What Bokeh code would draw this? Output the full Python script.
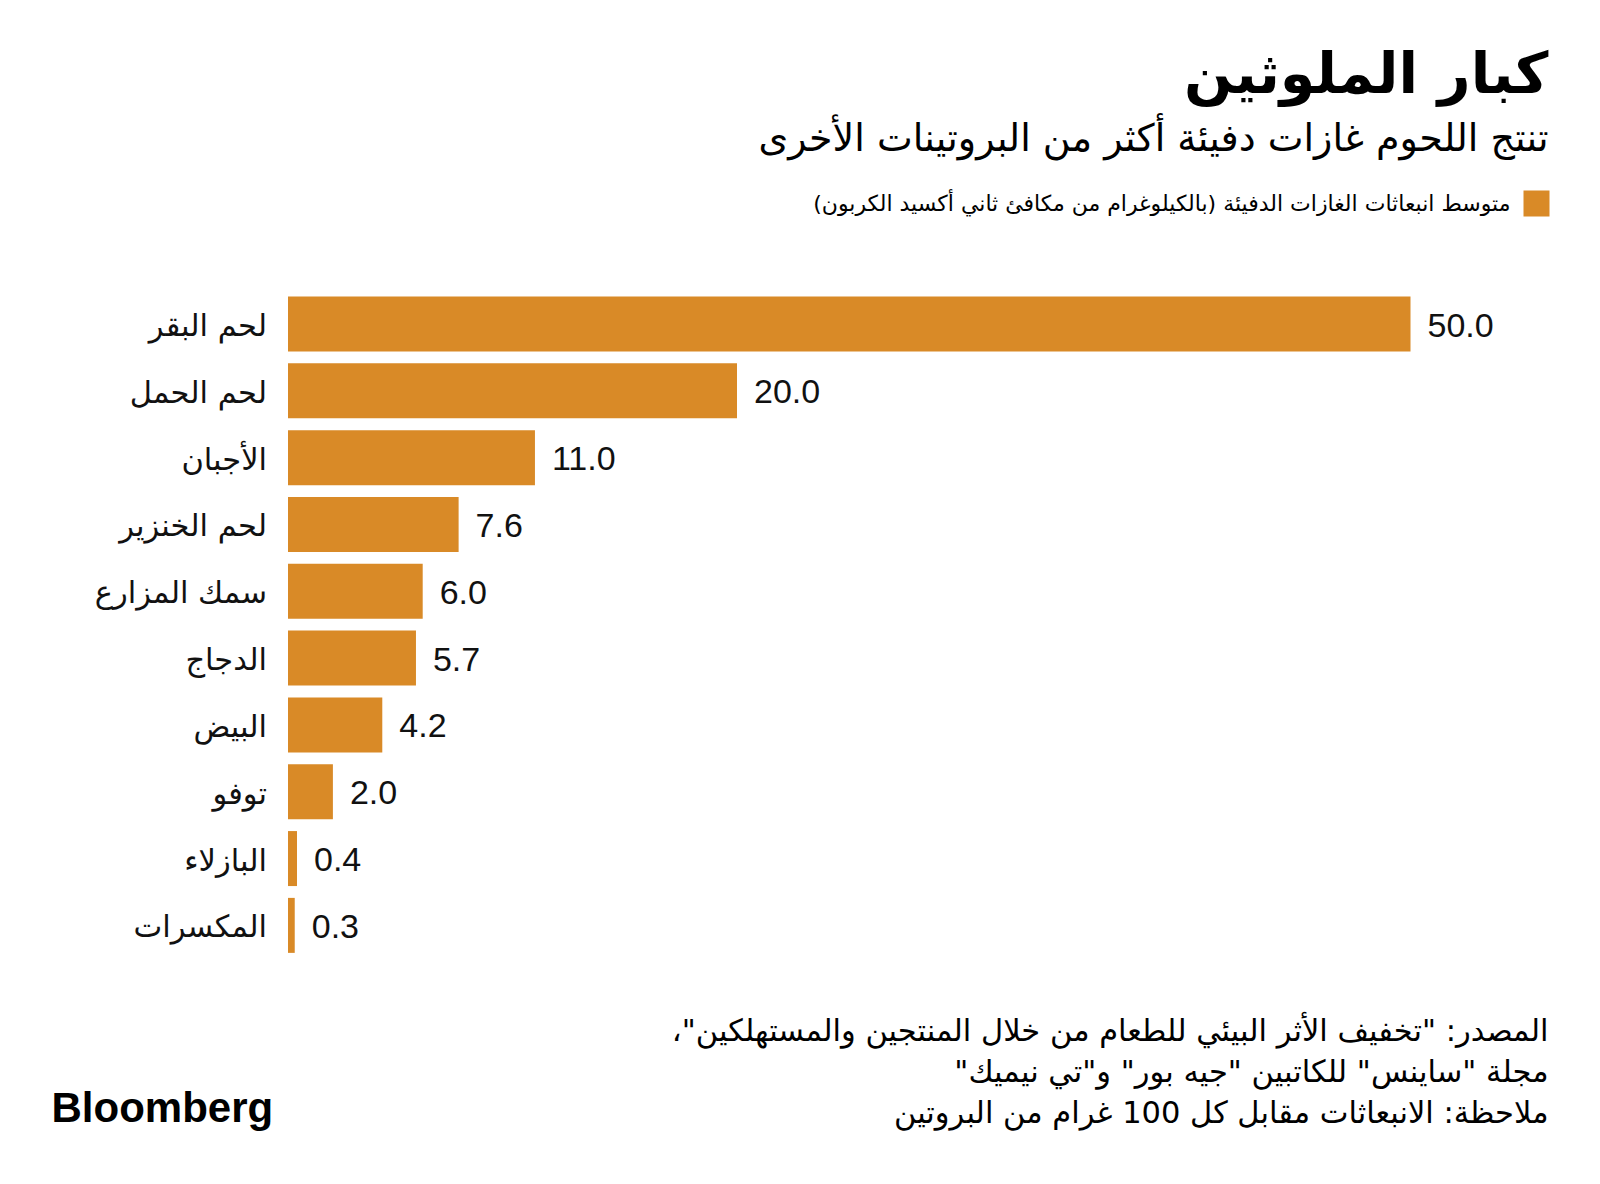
from bokeh.plotting import figure
from bokeh.models import Range1d, ColumnDataSource
from bokeh.embed import file_html
from bokeh.resources import INLINE
from bokeh.core.properties import value

RLM = "\u200f"

# ---------------- data ----------------
categories = ["لحم البقر", "لحم الحمل", "الأجبان", "لحم الخنزير", "سمك المزارع",
              "الدجاج", "البيض", "توفو", "البازلاء", "المكسرات"]
emissions = [50.0, 20.0, 11.0, 7.6, 6.0, 5.7, 4.2, 2.0, 0.4, 0.3]
value_labels = [f"{v:.1f}" for v in emissions]

title_text = "كبار الملوثين"
subtitle_text = "تنتج اللحوم غازات دفيئة أكثر من البروتينات الأخرى"
legend_text = "متوسط انبعاثات الغازات الدفيئة (بالكيلوغرام من مكافئ ثاني أكسيد الكربون)"
footer_lines = [
    'المصدر: "تخفيف الأثر البيئي للطعام من خلال المنتجين والمستهلكين"،',
    'مجلة "ساينس" للكاتبين "جيه بور" و"تي نيميك"',
    'ملاحظة: الانبعاثات مقابل كل 100 غرام من البروتين',
]
brand_text = "Bloomberg"

# ---------------- layout constants ----------------
W, H = 1584, 1168
ZERO_PX = 287.5       # canvas x of value 0
PX_PER_UNIT = 22.45   # pixels per kg
ROW0_PX = 323.5       # canvas y of first bar centre
ROW_PITCH = 66.82     # pixels per category row

BAR_COLOR = "#D98A27"
ARABIC = value("DejaVu Sans")
LATIN = value("Liberation Sans")

x_range = Range1d(-ZERO_PX / PX_PER_UNIT, (W - ZERO_PX) / PX_PER_UNIT)
y_top = -ROW0_PX / ROW_PITCH
y_range = Range1d(y_top + H / ROW_PITCH, y_top)

p = figure(width=W, height=H, x_range=x_range, y_range=y_range,
           output_backend="svg", toolbar_location=None,
           x_axis_location=None, y_axis_location=None,
           min_border=0, outline_line_color=None,
           background_fill_color="white", border_fill_color="white")
p.xgrid.visible = False
p.ygrid.visible = False

# pixel ranges for page furniture (titles, legend, notes)
p.extra_x_ranges = {"px": Range1d(0, W)}
p.extra_y_ranges = {"py": Range1d(H, 0)}

src = ColumnDataSource(dict(
    y=list(range(len(categories))),
    v=emissions,
    cat=categories,
    lbl=value_labels,
))

p.hbar(y="y", left=0, right="v", height=0.823, source=src,
       fill_color=BAR_COLOR, line_color=None)

p.text(x="v", y="y", text="lbl", source=src, x_offset=17, y_offset=1,
       text_align="left", text_baseline="alphabetic",
       text_font=LATIN, text_font_size="34px", text_color="#111111")

p.text(x=0, y="y", text="cat", source=src, x_offset=-21, y_offset=1.5,
       text_align="right", text_baseline="alphabetic",
       text_font=ARABIC, text_font_size="30.5px", text_color="#111111")

RIGHT = 1548

def ptext(x, y, t, size, font=ARABIC, align="right", style="normal", color="#000000"):
    p.text(x=[x], y=[y], text=[t], x_range_name="px", y_range_name="py",
           text_align=align, text_baseline="alphabetic", text_font=font,
           text_font_size=size, text_font_style=style, text_color=color)

ptext(RIGHT, 72, RLM + title_text + RLM, "57px", style="bold")
ptext(RIGHT, 137, RLM + subtitle_text + RLM, "38px")

# legend swatch
p.rect(x=[1536], y=[203], width=[26], height=[26], x_range_name="px",
       y_range_name="py", fill_color=BAR_COLOR, line_color=None)
ptext(1510, 203, RLM + legend_text + RLM, "22px")

for i, line in enumerate(footer_lines):
    ptext(RIGHT, 1030 + 41 * i, RLM + line + RLM, "30.5px")

ptext(51, 1107, brand_text, "42px", font=LATIN, align="left", style="bold")

open("out.html", "w").write(file_html(p, INLINE))
